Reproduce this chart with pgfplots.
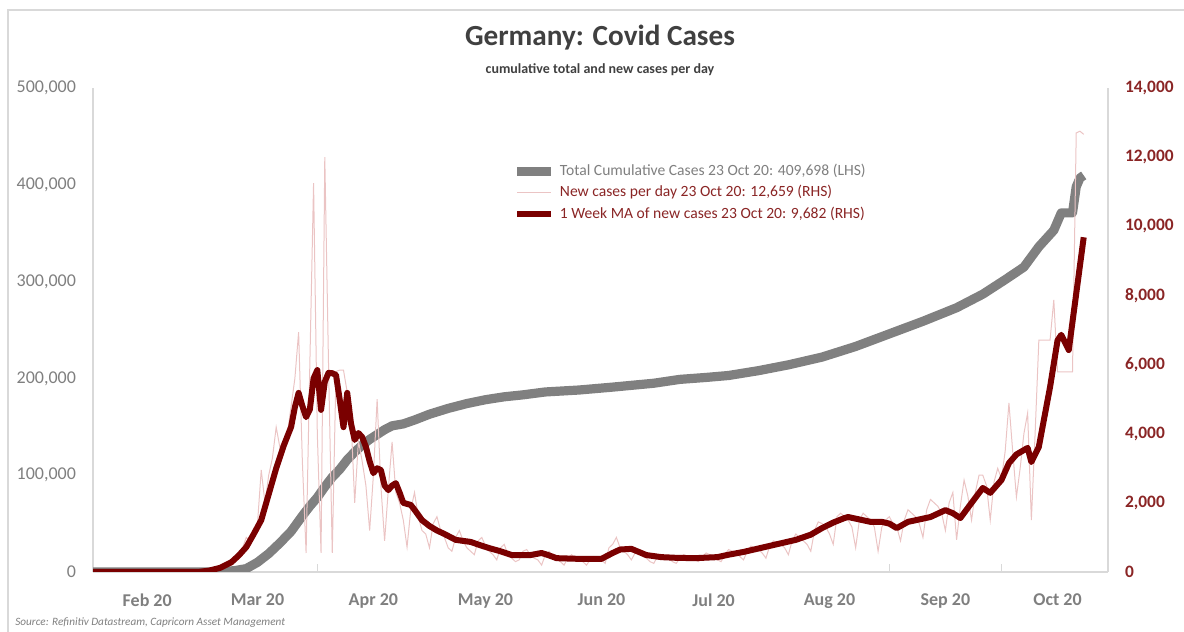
\documentclass[border=0pt]{standalone}
\usepackage{pgfplots}
\pgfplotsset{compat=1.18}
\usepackage{fontspec}
\setmainfont{Carlito}

\definecolor{cumgray}{HTML}{808080}
\definecolor{mared}{HTML}{7A0000}
\definecolor{dailypink}{HTML}{EBC4C4}
\definecolor{txtgray}{HTML}{7F7F7F}
\definecolor{rhsred}{HTML}{8A2525}
\definecolor{titlegray}{HTML}{404040}
\definecolor{axisgray}{HTML}{D9D9D9}

% day 0 = 1 Feb 2020
\begin{document}
\begin{tikzpicture}
\path[use as bounding box] (0,0) rectangle (592pt,316pt);
\draw[axisgray, line width=0.8pt] (4pt,0) -- (4pt,311pt) -- (592pt,311pt);

\begin{axis}[
  at={(46.5pt,30pt)}, anchor=south west,
  width=507.5pt, height=242pt, scale only axis,
  xmin=0, xmax=271.5, ymin=0, ymax=500000,
  axis x line*=bottom, axis y line*=left,
  axis line style={axisgray, line width=0.8pt},
  tick align=inside, major tick length=0pt, minor tick length=4pt,
  minor tick style={axisgray, line width=0.8pt},
  xtick={14.5,44,75,105,136,166,197,228,258},
  xticklabels={Feb 20,Mar 20,Apr 20,May 20,Jun 20,Jul 20,Aug 20,Sep 20,Oct 20},
  minor xtick={60,213,243},
  xticklabel style={font=\fontsize{9}{10}\selectfont\bfseries, text=txtgray, yshift=-7.5pt},
  ytick={0,100000,...,500000},
  yticklabel style={font=\fontsize{9}{10}\selectfont, text=txtgray, xshift=-5pt,
    /pgf/number format/.cd, fixed, precision=0, 1000 sep={,}, assume math mode=true},
  scaled y ticks=false,
]
\addplot[cumgray, line width=4.6pt, line join=round] coordinates {
(0,0) (32,0) (35,400) (38,1500) (41,3500) (44,10000) (47,19000) (50,30000)
(53,42000) (56,58000) (58,68000) (60,77000) (62,88000) (64,98000) (66,106000)
(68,116000) (70,124000) (72,131000) (74,137000) (76,142000) (78,147000)
(80,151000) (83,153000) (86,157000) (90,163000) (95,169000) (100,174000)
(105,178000) (110,181000) (115,183000) (121,186000) (130,188000) (139,191000)
(150,195000) (157,199000) (164,201000) (170,203000) (178,208000) (186,214000)
(195,222000) (204,233000) (213,246000) (222,259000) (231,273000) (238,287000)
(244,302000) (249,315000) (253,336000) (257,353000) (259,371000) (262,371000)
(263,398000) (264,407000) (265,409698)
};
\end{axis}

\begin{axis}[
  at={(46.5pt,30pt)}, anchor=south west,
  width=507.5pt, height=242pt, scale only axis,
  xmin=0, xmax=271.5, ymin=0, ymax=14000,
  axis x line=none, axis y line*=right,
  axis line style={axisgray, line width=0.8pt},
  major tick length=0pt,
  ytick={0,2000,...,14000},
  yticklabel style={font=\fontsize{8.7}{10}\selectfont\bfseries, text=rhsred, xshift=5pt,
    /pgf/number format/.cd, fixed, precision=0, 1000 sep={,}, assume math mode=true},
  scaled y ticks=false,
  legend style={at={(0.413,0.852)}, anchor=north west, draw=none, fill=none,
    font=\fontsize{7.8}{9}\selectfont, row sep=-0.5pt, inner sep=0pt},
  legend cell align=left,
]
\addlegendimage{cumgray, line width=4.6pt}
\addlegendentry{\textcolor{txtgray}{Total Cumulative Cases 23 Oct 20: 409,698 (LHS)}}
\addplot[dailypink, line width=0.5pt] coordinates {
(0,0) (27,0) (28,10) (30,20) (32,50) (34,100) (35,150) (36,250) (37,200) (38,400)
(39,550) (40,700) (41,1000) (42,900) (43,1200) (44,1400) (45,2950) (46,2000)
(47,2800) (48,3300) (49,4190) (50,3600) (51,3820) (52,4000) (53,4800) (54,5600)
(55,6940) (56,3200) (57,550) (58,6000) (59,11250) (60,4000) (61,550) (62,12000)
(63,6000) (64,550) (65,5800) (66,5840) (67,5840) (68,5200) (69,4500) (70,2000)
(71,3800) (72,3200) (73,2500) (74,1200) (75,2800) (76,5000) (77,2500) (78,900)
(79,2400) (80,3760) (81,2300) (82,2000) (83,1500) (84,720) (85,1800) (86,2300)
(87,1600) (88,1200) (89,1100) (90,700) (91,1400) (92,1600) (93,1200) (94,1000)
(95,700) (96,600) (97,1000) (98,1200) (99,900) (100,700) (101,600) (102,500)
(103,900) (104,1000) (105,750) (106,600) (107,500) (108,350) (109,700) (110,800)
(111,500) (112,400) (113,300) (114,350) (115,600) (116,650) (117,500) (118,400)
(119,350) (120,200) (121,500) (122,600) (123,450) (124,350) (125,300) (126,200)
(127,400) (128,500) (129,400) (130,350) (131,300) (132,200) (133,350) (134,450)
(135,400) (136,350) (137,250) (138,700) (139,800) (140,1000) (141,700) (142,600)
(143,500) (144,350) (145,550) (146,600) (147,450) (148,400) (149,300) (150,250)
(151,450) (152,500) (153,450) (154,400) (155,300) (156,250) (157,400) (158,500)
(159,450) (160,400) (161,350) (162,300) (163,450) (164,550) (165,500) (166,450)
(167,350) (168,300) (169,500) (170,650) (171,600) (172,550) (173,450) (174,350)
(175,600) (176,750) (177,700) (178,650) (179,550) (180,400) (181,750) (182,900)
(183,850) (184,800) (185,700) (186,500) (187,900) (188,1100) (189,1000) (190,900)
(191,800) (192,600) (193,1200) (194,1450) (195,1400) (196,1300) (197,1100)
(198,800) (199,1600) (200,1700) (201,1600) (202,1500) (203,1300) (204,700)
(205,1500) (206,1700) (207,1600) (208,1500) (209,1300) (210,600) (211,1300)
(212,1500) (213,1600) (214,1400) (215,1300) (216,900) (217,1500) (218,1800)
(219,1700) (220,1600) (221,1400) (222,1000) (223,1800) (224,2100) (225,2000)
(226,1900) (227,1700) (228,1200) (229,2000) (230,2300) (231,930) (232,1900)
(233,2660) (234,2200) (235,1500) (236,2300) (237,2800) (238,2800) (239,2500)
(240,1500) (241,2600) (242,3000) (243,2700) (244,3500) (245,4890) (246,3500)
(247,2170) (248,3000) (249,4000) (250,4600) (251,1500) (252,4000) (253,6710)
(254,6710) (255,6710) (256,6710) (257,7870) (258,5790) (259,5790) (260,5790)
(261,5790) (262,5790) (263,12700) (264,12750) (265,12659)
};
\addlegendentry{\textcolor{rhsred}{New cases per day 23 Oct 20: 12,659 (RHS)}}
\addplot[mared, line width=3pt, line join=round] coordinates {
(0,0) (28,0) (31,40) (34,120) (37,280) (39,480) (41,720) (43,1100) (45,1500)
(47,2250) (49,3000) (51,3650) (53,4200) (54,4770) (55,5180) (56,4800) (57,4480)
(58,4700) (59,5600) (60,5840) (61,4690) (62,5500) (63,5760) (64,5750) (65,5700)
(66,4980) (67,4190) (68,5180) (69,4300) (70,3820) (71,4020) (72,3900) (73,3620)
(74,3200) (75,2860) (76,3000) (77,2950) (78,2500) (79,2370) (80,2500) (81,2570)
(82,2300) (83,2000) (85,1940) (86,1800) (88,1500) (90,1330) (92,1200) (94,1100)
(97,930) (101,870) (104,760) (106,690) (109,600) (112,490) (117,490) (120,550)
(122,480) (124,400) (130,380) (136,380) (139,550) (141,650) (144,670) (146,580)
(148,490) (152,430) (156,410) (161,400) (167,430) (170,500) (174,580) (178,680)
(182,780) (188,930) (192,1080) (195,1270) (198,1430) (201,1560) (202,1590)
(205,1520) (208,1450) (211,1450) (213,1400) (215,1270) (218,1450) (221,1520)
(224,1590) (228,1790) (230,1700) (232,1560) (235,2000) (238,2430) (240,2290)
(243,2660) (245,3150) (247,3400) (250,3590) (251,3180) (253,3620) (254,4200)
(256,5350) (258,6700) (259,6860) (261,6420) (265,9682)
};
\addlegendentry{\textcolor{rhsred}{1 Week MA of new cases 23 Oct 20: 9,682 (RHS)}}
\end{axis}

\node[text=titlegray, font=\fontsize{14.6}{16}\selectfont\bfseries] at (300pt,297pt) {Germany: Covid Cases};
\node[text=titlegray, font=\fontsize{7}{8}\selectfont\bfseries] at (300pt,281pt) {cumulative total and new cases per day};
\node[text=txtgray, anchor=west, font=\fontsize{5.6}{6}\selectfont\itshape, inner sep=0pt] at (7.5pt,4.5pt) {Source: Refinitiv Datastream, Capricorn Asset Management};
\end{tikzpicture}
\end{document}
